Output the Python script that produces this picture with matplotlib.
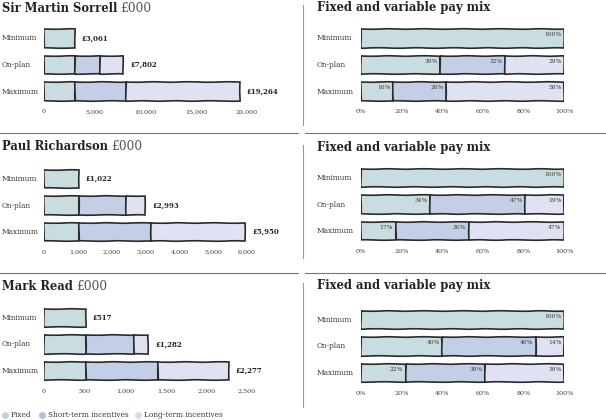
import numpy as np
import matplotlib.pyplot as plt
from matplotlib.lines import Line2D

# values in £000
names = ['Sir Martin Sorrell', 'Paul Richardson', 'Mark Read']
scenarios = ['Minimum', 'On-plan', 'Maximum']
fixed = [3061, 1022, 517]
sti_onplan = [2497, 1407, 590]
lti_onplan = [2244, 564, 175]
sti_max = [5008, 2142, 888]
lti_max = [11195, 2786, 872]
xmax = [20000, 6000, 2500]
xstep = [5000, 1000, 500]
# pay mix percentages
pct_onplan = [[39, 32, 29], [34, 47, 19], [40, 46, 14]]
pct_max = [[16, 26, 58], [17, 36, 47], [22, 39, 39]]
components = ['Fixed', 'Short-term incentives', 'Long-term incentives']

colors = ['#c9dde1', '#c3cfe7', '#dee2f2']
legend_colors = ['#bad3d9', '#adbfe3', '#d6dbf0']
edge = '#2b2b2b'
txt = '#3a3a3a'
serif = 'DejaVu Serif'

W, H = 606, 420
fig = plt.figure(figsize=(W / 100, H / 100), dpi=100)


def ax_at(x0, ytop, w, h):
    return fig.add_axes([x0 / W, 1 - (ytop + h) / H, w / W, h / H])


def draw_bars(ax, rows, labels_fn, bar_h=0.7):
    for r, segs in enumerate(rows):
        left = 0
        for k, v in enumerate(segs):
            if v <= 0:
                continue
            b = ax.barh(r, v, left=left, height=bar_h, color=colors[k],
                        edgecolor=edge, linewidth=1.2)
            for p in b:
                p.set_sketch_params(0.25, 40, 2)
            labels_fn(ax, r, k, left, v, bar_h)
            left += v


def style(ax, lim, ticks, ticklabels):
    ax.set_xlim(0, lim)
    ax.set_ylim(2.6, -0.6)
    ax.set_xticks(ticks)
    ax.set_xticklabels(ticklabels, fontsize=4.6, color=txt, family=serif)
    ax.set_yticks([])
    ax.tick_params(axis='x', length=0, pad=1.5)
    for s in ax.spines.values():
        s.set_visible(False)
    ax.patch.set_alpha(0)


s = 26.5
left_c0 = [38.5, 179, 318]
right_c0 = [38.5, 178, 320]
title_y = [8, 147, 286]

for i in range(3):
    # absolute bars
    rows = [[fixed[i], 0, 0],
            [fixed[i], sti_onplan[i], lti_onplan[i]],
            [fixed[i], sti_max[i], lti_max[i]]]
    ax = ax_at(44, left_c0[i] - 0.6 * s, 203, 3.2 * s)
    draw_bars(ax, rows, lambda *a: None)
    for r, segs in enumerate(rows):
        ax.annotate('£{:,}'.format(sum(segs)), (sum(segs), r), xytext=(5, 0),
                    textcoords='offset points', va='center', ha='left',
                    fontsize=5.0, fontweight='bold', color='#222', family=serif)
    ticks = np.arange(0, xmax[i] + 1, xstep[i])
    style(ax, xmax[i], ticks, ['{:,}'.format(t) for t in ticks])
    for r, lab in enumerate(scenarios):
        fig.text(2 / W, 1 - (left_c0[i] + r * s) / H, lab, fontsize=5.3,
                 color=txt, va='center', ha='left', family=serif)
    t = fig.text(2 / W, 1 - title_y[i] / H, names[i], fontsize=8.3,
                 fontweight='bold', color='#222', va='center', ha='left', family=serif)
    fig.canvas.draw()
    bb = t.get_window_extent()
    fig.text(bb.x1 / W + 3 / W, 1 - title_y[i] / H, '£000', fontsize=8.8,
             color='#555', va='center', ha='left', family=serif)

    # percentage mix
    prow = [[100, 0, 0], pct_onplan[i], pct_max[i]]
    ax2 = ax_at(361, right_c0[i] - 0.6 * s, 203, 3.2 * s)

    def pct_label(ax, r, k, left, v, bar_h):
        ax.text(left + v - 1.2, r - bar_h / 2 + 0.2, '{}%'.format(v),
                fontsize=4.2, color=txt, ha='right', va='center', family=serif)

    draw_bars(ax2, prow, pct_label)
    style(ax2, 100, np.arange(0, 101, 20), ['{}%'.format(t) for t in range(0, 101, 20)])
    for r, lab in enumerate(scenarios):
        fig.text(317 / W, 1 - (right_c0[i] + r * s) / H, lab, fontsize=5.3,
                 color=txt, va='center', ha='left', family=serif)
    fig.text(317 / W, 1 - title_y[i] / H, 'Fixed and variable pay mix', fontsize=8.4,
             fontweight='bold', color='#222', va='center', ha='left', family=serif)

# divider lines
for y in [133, 273]:
    fig.add_artist(Line2D([0, 298 / W], [1 - y / H] * 2, color='#777', lw=0.8))
    fig.add_artist(Line2D([305 / W, 1], [1 - y / H] * 2, color='#777', lw=0.8))
for y0, y1 in [(5, 125), (145, 258), (283, 407)]:
    fig.add_artist(Line2D([303 / W] * 2, [1 - y0 / H, 1 - y1 / H], color='#999', lw=0.8))

# legend
lx = [5, 42, 138]
for k, comp in enumerate(components):
    fig.add_artist(Line2D([lx[k] / W], [1 - 415 / H], marker='o', markersize=5,
                          color=legend_colors[k], markeredgewidth=0, lw=0))
    fig.text((lx[k] + 6) / W, 1 - 415 / H, comp, fontsize=5.3, color=txt,
             va='center', ha='left', family=serif)

fig.savefig('out.png', dpi=100)
